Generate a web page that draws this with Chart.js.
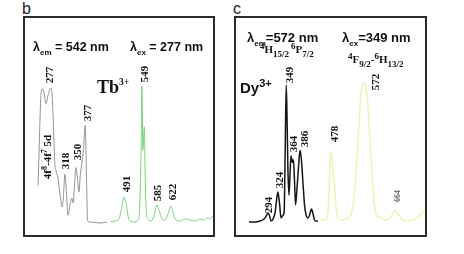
<!DOCTYPE html>
<html>
<head>
<meta charset="utf-8">
<script src="https://cdn.jsdelivr.net/npm/chart.js@4.4.1/dist/chart.umd.min.js"></script>
<style>
  html, body { margin:0; padding:0; background:#fff; }
  body { width:464px; height:254px; position:relative; overflow:hidden; }
  .box { position:absolute; border:2px solid #2a2a2a; box-sizing:border-box; }
  canvas { position:absolute; }
  .t { position:absolute; white-space:nowrap; line-height:1; color:#111; }
  .sans { font-family:"Liberation Sans", Arial, sans-serif; }
  .serif { font-family:"Liberation Serif", "Times New Roman", serif; }
  .rot { position:absolute; white-space:nowrap; line-height:1; font-family:"Liberation Serif","Times New Roman",serif; font-weight:bold; font-size:11px; color:#111; transform:translate(-50%,-50%) rotate(-90deg); }
  .sub { position:relative; font-size:8px; top:4px; }
</style>
</head>
<body>
<div class="t sans" style="left:22px;top:1px;font-size:16px;color:#222;">b</div>
<div class="t sans" style="left:233px;top:1px;font-size:16px;color:#222;">c</div>

<div class="box" style="left:23px;top:16px;width:192px;height:221px;"></div>
<div class="box" style="left:234px;top:16px;width:193px;height:221px;"></div>

<canvas id="chartB" width="188" height="217" style="left:25px;top:18px;"></canvas>
<canvas id="chartC" width="189" height="217" style="left:236px;top:18px;"></canvas>

<!-- panel b texts -->
<div class="t sans" style="left:33px;top:41px;font-size:12.5px;font-weight:bold;">λ<span class="sub">em</span> = 542 nm</div>
<div class="t sans" style="left:130px;top:41px;font-size:12.5px;font-weight:bold;">λ<span class="sub">ex</span> = 277 nm</div>
<div class="t serif" style="left:97px;top:78px;font-size:18px;font-weight:bold;">Tb<span style="position:relative;font-size:9.5px;top:-8px;">3+</span></div>

<!-- panel c texts -->
<div class="t sans" style="left:247px;top:31px;font-size:13px;font-weight:bold;">λ<span class="sub">em</span>=572 nm</div>
<div class="t sans" style="left:342px;top:31px;font-size:13px;font-weight:bold;">λ<span class="sub">ex</span>=349 nm</div>
<div class="t serif" style="left:260px;top:44px;font-size:11px;font-weight:bold;"><span style="position:relative;font-size:9px;top:-4px;">4</span>H<span style="position:relative;font-size:9px;top:4px;">15/2</span></div>
<div class="t serif" style="left:291px;top:44px;font-size:11px;font-weight:bold;"><span style="position:relative;font-size:9px;top:-4px;">6</span>P<span style="position:relative;font-size:9px;top:4px;">7/2</span></div>
<div class="t serif" style="left:348px;top:54px;font-size:11px;font-weight:bold;"><span style="position:relative;font-size:9px;top:-4px;">4</span>F<span style="position:relative;font-size:9px;top:4px;">9/2</span>-<span style="position:relative;font-size:9px;top:-4px;">6</span>H<span style="position:relative;font-size:9px;top:4px;">13/2</span></div>
<div class="t sans" style="left:240px;top:80px;font-size:15px;font-weight:bold;">Dy<span style="position:relative;font-size:11px;top:-6px;">3+</span></div>

<div id="labels"></div>

<script>
// ---------- DATA ----------
// Panel b: Tb3+ excitation (grey, λem = 542 nm)
const tbExWavelength = [240,243,246,248,253,257,263,269,275,278,280,283,286,289,292,298,304,310,314,318,323,327,333,338,342,346,350,355,359,363,369,372,377,381,384,391,420,441];
const tbExIntensity  = [27,53,79,93,98,95,87,93,98,98.5,96,82,60,42,38,32,20,11,20,35,20,5,12.5,17.6,14,27,40,31,22,35,46,53,71,31,1,0,-0.7,0];
// Panel b: Tb3+ emission (green, λex = 277 nm)
const tbEmWavelength = [452,464,475,481,486,490,493,496,499,503,507,519,531,535,538,540,542,545,549,551,553,556,560,566,574,580,585,589,592,598,604,612,620,625,631,636,641,653,668,682,697,711,723,732,740,749];
const tbEmIntensity  = [0,0.7,2.2,7.4,14.7,18.4,16.9,14,8.8,2.9,0.7,0,1.5,8,30,60,100,53,70,42,18,5,2,0.7,2.2,7.4,12.5,10.3,8.8,3.7,1.5,2.2,7.4,11.8,8.8,3.7,1.5,0.7,2.2,1.5,0.7,2.2,1.5,2.9,2.2,4.4];
// Panel c: Dy3+ excitation (black, λem = 572 nm)
const dyExWavelength = [240,258,272,284,290,295,300,304,310,316,320,324,329,333,337,342,345,348,350,353,356,359,362,366,369,372,375,379,384,388,392,397,401,405,410,416,421,426,430,434,440];
const dyExIntensity  = [-0.7,-0.7,0,1.5,3.7,5.9,3.7,0,1.5,6.6,15.4,21.3,11.8,2.2,3.7,6.6,52,100,82,37.5,19,34,48,43,45,30,12,23,41,52,45,26.5,12,5,2.2,4.4,8.8,5,0.7,0,0];
// Panel c: Dy3+ emission (pale yellow, λex = 349 nm)
const dyEmWavelength = [446,457,466,471,475,478,481,484,487,491,495,501,510,521,533,542,550,558,565,571,578,584,589,595,601,607,614,620,626,637,649,658,663,669,678,687,701,716,730,742,750];
const dyEmIntensity  = [1.5,0.7,1.5,15,41,51,45,32,30,15,5,1.5,0.7,1.5,3.7,12,34,67,95,101.5,99,89,67,41,19,6.6,2.2,3.7,1.5,0.7,2.2,6,8,6.6,2.9,0.7,0,0.7,2.9,6,8];

// Peak labels (wavelength text)
const tbPeakLabels = ["277","377","318","350","549","491","585","622"];
const dyPeakLabels = ["349","294","324","364","386","572","478","664"];

// ---------- helpers ----------
function pts(xs, ys) { return xs.map((x, i) => ({ x: x, y: ys[i] })); }

function makeChart(id, datasets, xr, yr) {
  return new Chart(document.getElementById(id), {
    type: 'line',
    data: { datasets: datasets },
    options: {
      responsive: false,
      devicePixelRatio: 1,
      animation: false,
      layout: { padding: 0 },
      plugins: { legend: { display: false }, tooltip: { enabled: false } },
      elements: { point: { radius: 0 }, line: { cubicInterpolationMode: 'monotone' } },
      scales: {
        x: { type: 'linear', min: xr[0], max: xr[1], display: false },
        y: { type: 'linear', min: yr[0], max: yr[1], display: false }
      }
    }
  });
}

makeChart('chartB', [
  { label: 'Tb3+ excitation', data: pts(tbExWavelength, tbExIntensity), borderColor: '#939393', borderWidth: 1, fill: false },
  { label: 'Tb3+ emission', data: pts(tbEmWavelength, tbEmIntensity), borderColor: '#7ed07e', borderWidth: 1, fill: false }
], [201.9, 748.9], [-9.56, 150]);

makeChart('chartC', [
  { label: 'Dy3+ excitation', data: pts(dyExWavelength, dyExIntensity), borderColor: '#151515', borderWidth: 1.5, fill: false },
  { label: 'Dy3+ emission', data: pts(dyEmWavelength, dyEmIntensity), borderColor: '#f1f1b8', borderWidth: 1.5, fill: false }
], [202.5, 750.2], [-10.3, 149.3]);

// ---------- rotated peak labels ----------
const labelPos = {
  "b277":[49,75], "b377":[87,113], "b318":[65,161], "b350":[77,152],
  "b549":[144,74], "b491":[126,184], "b585":[157,193], "b622":[172,192],
  "c349":[289,75], "c294":[268,205], "c324":[279,180], "c364":[293,144],
  "c386":[304,139], "c572":[375,82], "c478":[334,134], "c664":[398,196]
};
const host = document.getElementById('labels');
function addRot(text, pos, extraStyle) {
  const d = document.createElement('div');
  d.className = 'rot';
  d.innerHTML = text;
  d.style.left = pos[0] + 'px';
  d.style.top = pos[1] + 'px';
  if (extraStyle) d.setAttribute('style', d.getAttribute('style') + ';' + extraStyle);
  host.appendChild(d);
}
tbPeakLabels.forEach(l => addRot(l, labelPos['b' + l]));
dyPeakLabels.forEach(l => addRot(l, labelPos['c' + l], l === '664' ? 'font-size:8px;color:#666;' : ''));
addRot('4f<span style="position:relative;font-size:8px;top:-4px;">8</span>-4f<span style="position:relative;font-size:8px;top:-4px;">7</span> 5d', [47,157]);
</script>
</body>
</html>
